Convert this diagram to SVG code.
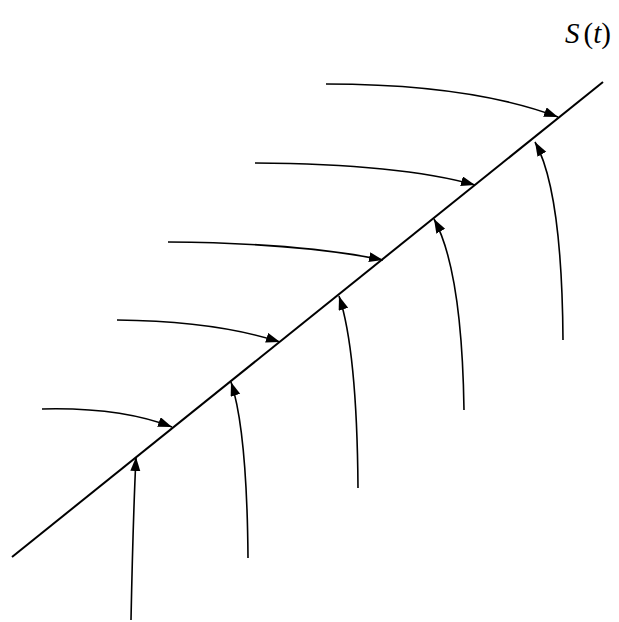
<svg xmlns="http://www.w3.org/2000/svg" width="619" height="622" viewBox="0 0 619 622">
<style>
.ln{fill:none;stroke:#000;stroke-width:2}
.ar{fill:none;stroke:#000;stroke-width:1.6;marker-end:url(#ah)}
.lbl{font-family:"Liberation Serif",serif;font-size:29px;fill:#000}
</style>
<defs>
<marker id="ah" markerUnits="userSpaceOnUse" markerWidth="15" markerHeight="11" refX="14" refY="5" orient="auto">
<path d="M0,0 L14,5 L0,10 z" fill="#000"/>
</marker>
</defs>
<rect width="619" height="622" fill="#fff"/>
<g id="front">
<line class="ln" x1="12" y1="557" x2="603" y2="82"/>
</g>
<g id="label">
<text class="lbl" x="565" y="43"><tspan font-style="italic">S</tspan><tspan dx="4">(</tspan><tspan font-style="italic">t</tspan>)</text>
</g>
<g id="connectors">
<path class="ar" d="M42,409 Q120,407 172,427"/>
<path class="ar" d="M117,320 Q215,321 280,342"/>
<path class="ar" d="M168,242 Q300,243 383,260"/>
<path class="ar" d="M255,163 Q400,164 475,185"/>
<path class="ar" d="M326,84 Q470,84 558,117"/>
<path class="ar" d="M131,620 Q133,520 136,457"/>
<path class="ar" d="M248,558 Q247,430 231,382"/>
<path class="ar" d="M358,488 Q357,350 339,296"/>
<path class="ar" d="M464,410 Q462,270 434,219"/>
<path class="ar" d="M563,340 Q562,190 535,142"/>
</g>
</svg>
